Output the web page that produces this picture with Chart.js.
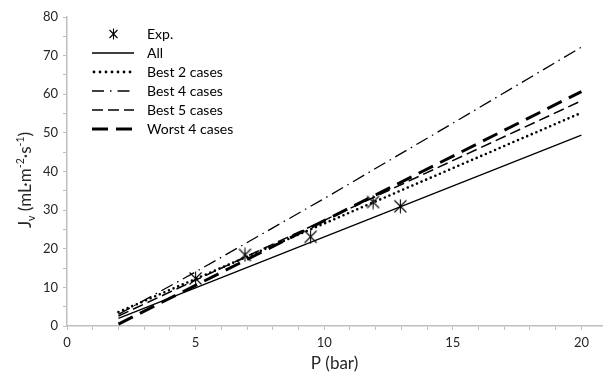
<!DOCTYPE html>
<html><head><meta charset="utf-8">
<script src="https://cdn.jsdelivr.net/npm/chart.js@4/dist/chart.umd.min.js"></script>
<style>html,body{margin:0;padding:0;background:#fff}#wrap{width:610px;height:377px}</style>
</head><body><div id="wrap"><canvas id="c" width="610" height="377"></canvas></div>
<script>
// ---- data ----
const expP  = [5.0, 6.92, 9.47, 11.9, 12.96];
const expJv = [12.3, 18.4, 23.1, 32.1, 31.0];

const modelP     = [2, 20];
const allJv      = [2.0, 49.4];
const best2Jv    = [3.6, 55.2];
const best5Jv    = [2.6, 58.3];
const worst4Jv   = [0.5, 60.7];
const best4P     = [2, 5, 10, 15, 20];
const best4Jv    = [3.0, 14.0, 33.0, 52.5, 72.2];

const seriesNames = ['Exp.', 'All', 'Best 2 cases', 'Best 4 cases', 'Best 5 cases', 'Worst 4 cases'];
const xTickValues = [0,1,2,3,4,5,6,7,8,9,10,11,12,13,14,15,16,17,18,19,20];
const xTickLabels = ['0','','','','','5','','','','','10','','','','','15','','','','','20'];
const yTickValues = [0,5,10,15,20,25,30,35,40,45,50,55,60,65,70,75,80];
const yTickLabels = ['0','','10','','20','','30','','40','','50','','60','','70','','80'];
const xTitle = 'P (bar)';
// y title pieces: [text, relative size, baseline shift (em)]
const yTitleParts = [['J', 1, 0], ['v', 0.62, 0.22], [' (mL·m', 1, 0], ['-2', 0.62, -0.42],
                     ['·s', 1, 0], ['-1', 0.62, -0.42], [')', 1, 0]];

// ---- styles ----
const FONT = 'Lato, "Open Sans", sans-serif';
const TXT = '#262626';
const AXIS = '#bfbfbf';

function starImage(w, cx, r, h) {
  const c = document.createElement('canvas');
  c.width = w; c.height = h;
  const g = c.getContext('2d');
  const cy = h / 2;
  g.strokeStyle = '#000'; g.lineWidth = 1.1;
  g.beginPath();
  g.moveTo(cx - r, cy - r); g.lineTo(cx + r, cy + r);
  g.moveTo(cx + r, cy - r); g.lineTo(cx - r, cy + r);
  g.moveTo(cx, 0.5); g.lineTo(cx, h - 0.5);
  g.stroke();
  return c;
}
function sampleImage(w, len, lw, dash, cap) {
  const c = document.createElement('canvas');
  c.width = w; c.height = 14;
  const g = c.getContext('2d');
  g.strokeStyle = '#000'; g.lineWidth = lw; g.lineCap = cap || 'butt';
  g.setLineDash(dash);
  g.beginPath(); g.moveTo(cap === 'round' ? 2 : 0, 7); g.lineTo(len, 7); g.stroke();
  return c;
}
const LW = 48;
const legendImgs = [
  starImage(LW, 21.5, 4, 12),
  sampleImage(LW, 42, 1.3, []),
  sampleImage(LW, 42, 2.8, [0, 6], 'round'),
  sampleImage(LW, 42, 1.3, [12, 6, 1.5, 6]),
  sampleImage(LW, 42, 1.5, [11, 5]),
  sampleImage(LW, 42, 3, [16, 8])
];
const starPt = starImage(15, 7.5, 6, 15);

const pts = (xs, ys) => xs.map((x, i) => ({x: x, y: ys[i]}));
const lineDs = (label, xs, ys, w, dash, cap) => ({
  label, data: pts(xs, ys), showLine: true, pointRadius: 0, pointHoverRadius: 0,
  borderColor: '#000', backgroundColor: '#000', borderWidth: w, borderDash: dash,
  borderCapStyle: cap || 'butt', fill: false, tension: 0
});

const legendShift = {
  id: 'legendShift',
  afterLayout(chart) {
    const l = chart.legend, ca = chart.chartArea;
    if (!l) return;
    const w = l.width, h = l.height;
    l.left = ca.left + 20; l.right = l.left + w;
    l.top = ca.top + 5; l.bottom = l.top + h;
  }
};

const yTitlePlugin = {
  id: 'yTitle',
  afterDraw(chart) {
    const ctx = chart.ctx, base = 17;
    ctx.save();
    ctx.fillStyle = TXT;
    ctx.textBaseline = 'alphabetic';
    ctx.textAlign = 'left';
    let total = 0;
    const widths = yTitleParts.map(p => {
      ctx.font = (base * p[1]) + 'px ' + FONT;
      const w = ctx.measureText(p[0]).width; total += w; return w;
    });
    ctx.translate(31, 180);
    ctx.rotate(-Math.PI / 2);
    let x = -total / 2;
    yTitleParts.forEach((p, i) => {
      ctx.font = (base * p[1]) + 'px ' + FONT;
      ctx.fillText(p[0], x, p[2] * base);
      x += widths[i];
    });
    ctx.restore();
  }
};

new Chart(document.getElementById('c'), {
  type: 'scatter',
  data: {
    datasets: [
      {label: seriesNames[0], data: pts(expP, expJv), pointStyle: starPt, pointRadius: 7,
       borderColor: '#000', backgroundColor: '#000', showLine: false},
      lineDs(seriesNames[1], modelP, allJv, 1.3, []),
      lineDs(seriesNames[2], modelP, best2Jv, 2.6, [0, 5], 'round'),
      lineDs(seriesNames[3], best4P, best4Jv, 1.3, [13, 5, 1.5, 5]),
      lineDs(seriesNames[4], modelP, best5Jv, 1.5, [11, 5]),
      lineDs(seriesNames[5], modelP, worst4Jv, 3, [16, 8])
    ]
  },
  options: {
    responsive: false, animation: false, devicePixelRatio: 1,
    layout: {padding: {top: 17, right: 2, bottom: 0, left: 0}},
    plugins: {
      tooltip: {enabled: false},
      legend: {
        position: 'chartArea', align: 'start',
        labels: {
          usePointStyle: true, pointStyleWidth: LW, padding: 5,
          color: '#000', font: {family: FONT, size: 14},
          generateLabels(chart) {
            return chart.data.datasets.map((ds, i) => ({
              text: ds.label, pointStyle: legendImgs[i], datasetIndex: i,
              hidden: false, lineWidth: 0, strokeStyle: 'rgba(0,0,0,0)', fillStyle: 'rgba(0,0,0,0)',
              fontColor: '#000'
            }));
          }
        }
      }
    },
    scales: {
      x: {
        type: 'linear', min: 0, max: 20.8,
        afterBuildTicks(s) { s.ticks = xTickValues.map(v => ({value: v})); },
        afterFit(s) { s.height = 51; },
        ticks: {autoSkip: false, maxRotation: 0, padding: 5, color: TXT,
                font: {family: FONT, size: 13},
                callback: (v) => xTickLabels[xTickValues.indexOf(v)]},
        grid: {drawOnChartArea: false, drawTicks: true, tickLength: 4, color: AXIS, lineWidth: 1},
        border: {display: true, color: AXIS, width: 1.5},
        title: {display: true, text: xTitle, color: TXT, font: {family: FONT, size: 17},
                padding: {top: 0, bottom: 3}}
      },
      y: {
        type: 'linear', min: 0, max: 80,
        afterBuildTicks(s) { s.ticks = yTickValues.map(v => ({value: v})); },
        afterFit(s) { s.width = 67; },
        ticks: {autoSkip: false, padding: 5, color: TXT, font: {family: FONT, size: 13},
                callback: (v) => yTickLabels[yTickValues.indexOf(v)]},
        grid: {drawOnChartArea: false, drawTicks: true, tickLength: 4, color: AXIS, lineWidth: 1},
        border: {display: true, color: AXIS, width: 1.5},
        title: {display: false}
      }
    }
  },
  plugins: [legendShift, yTitlePlugin]
});
</script></body></html>
